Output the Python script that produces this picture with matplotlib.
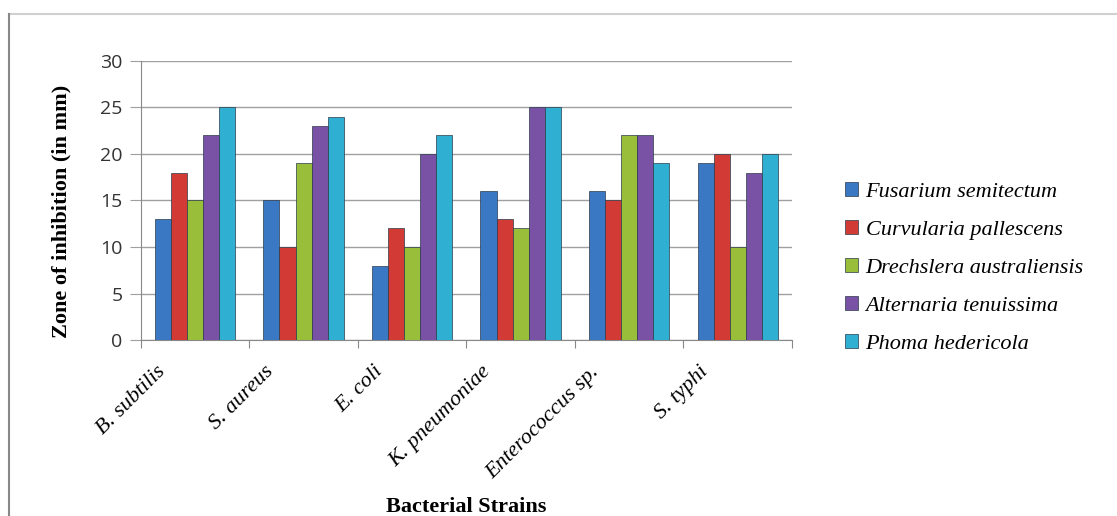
from matplotlib import pyplot as plt
from matplotlib.lines import Line2D
import numpy as np

# данные
strains = ['B. subtilis', 'S. aureus', 'E. coli', 'K. pneumoniae', 'Enterococcus sp.', 'S. typhi']
fungi = ['Fusarium semitectum', 'Curvularia pallescens', 'Drechslera australiensis',
         'Alternaria tenuissima', 'Phoma hedericola']
fusarium = [13, 15, 8, 16, 16, 19]
curvularia = [18, 10, 12, 13, 15, 20]
drechslera = [15, 19, 10, 12, 22, 10]
alternaria = [22, 23, 20, 25, 22, 18]
phoma = [25, 24, 22, 25, 19, 20]
series = [fusarium, curvularia, drechslera, alternaria, phoma]
colors = ['#3A78C3', '#D23A36', '#98BE3A', '#7952A6', '#2FAFD2']


def draw_graph():
	fig = plt.figure(figsize=(11.17, 5.16), dpi=100)
	ax = fig.add_axes([0.126, 0.341, 0.583, 0.541])

	x = np.arange(len(strains))
	width = 0.148
	for i, (vals, col) in enumerate(zip(series, colors)):
		ax.bar(x + (i - 2) * width, vals, width, color=col, edgecolor='#2a3a4a',
			linewidth=0.5, label=fungi[i], zorder=3)

	ax.set_xlim(-0.5, len(strains) - 0.5)
	ax.set_ylim(0, 30)
	ax.set_yticks(range(0, 31, 5))
	ax.yaxis.grid(True, color='#a0a0a0', linewidth=1, zorder=0)
	ax.set_axisbelow(True)

	# тики по границам категорий, подписи - отдельно и чуть левее центра
	ax.set_xticks(np.arange(-0.5, len(strains), 1.0))
	ax.set_xticklabels([])
	ax.set_xticks(x - 0.36, minor=True)
	ax.set_xticklabels(strains, minor=True, rotation=45, ha='right', rotation_mode='anchor',
		family='Liberation Serif', style='italic', fontsize=16)
	ax.tick_params(axis='x', which='minor', length=0, pad=16)
	ax.tick_params(axis='x', which='major', length=6, color='#888888', direction='out')
	ax.tick_params(axis='y', length=8, color='#a0a0a0', labelsize=14, pad=5,
		labelcolor='#333333')
	for lbl in ax.get_yticklabels():
		lbl.set_family('Open Sans')

	for s in ['top', 'right']:
		ax.spines[s].set_visible(False)
	ax.spines['left'].set_color('#888888')
	ax.spines['bottom'].set_color('#888888')

	ax.set_ylabel('Zone of inhibition (in mm)', family='Liberation Serif', fontweight='bold',
		fontsize=16)
	ax.yaxis.set_label_coords(-0.107, 0.462)
	ax.set_xlabel('Bacterial Strains', family='Liberation Serif', fontweight='bold',
		fontsize=16, va='baseline')
	ax.xaxis.set_label_coords(0.5, -0.617)

	ax.legend(loc='center left', bbox_to_anchor=(1.05, 0.258), frameon=False,
		prop={'family': 'Liberation Serif', 'style': 'italic', 'size': 16},
		handlelength=0.6, handleheight=0.6, handletextpad=0.35, labelspacing=0.82)

	# рамка вокруг рисунка
	fig.add_artist(Line2D([9 / 1117, 1], [1 - 14 / 516] * 2, color='#d0d0d0', linewidth=1.5))
	fig.add_artist(Line2D([9 / 1117] * 2, [0, 1 - 14 / 516], color='#888888', linewidth=1.5))

	fig.savefig('out.png', dpi=100)


draw_graph()
